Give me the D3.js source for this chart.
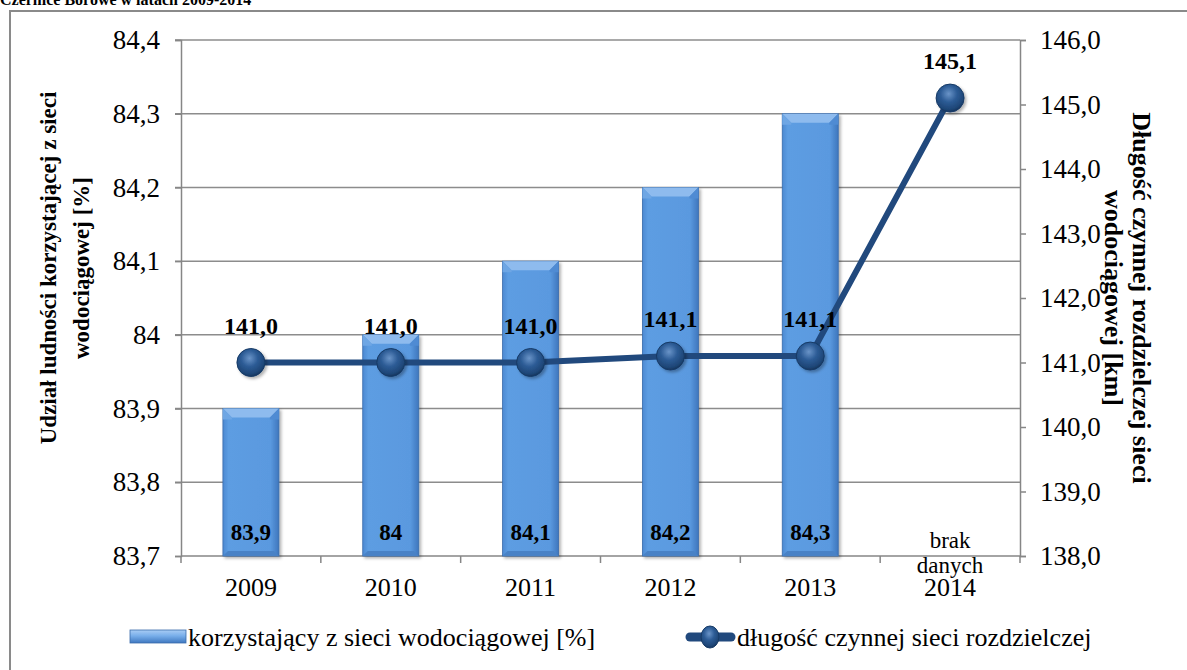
<!DOCTYPE html>
<html>
<head>
<meta charset="utf-8">
<script src="https://cdn.jsdelivr.net/npm/d3@7"></script>
<style>
  html, body { margin: 0; padding: 0; background: #fff; }
  svg { display: block; font-family: "Liberation Serif", "Times New Roman", serif; }
</style>
</head>
<body>
<svg id="chart" width="1187" height="670"></svg>
<script>
// Data: Czernice Borowe, 2009-2014
const years = ["2009", "2010", "2011", "2012", "2013", "2014"];
const shareValues = [83.9, 84.0, 84.1, 84.2, 84.3, null];       // % population using water supply network
const networkLength = [141.0, 141.0, 141.0, 141.1, 141.1, 145.1]; // active distribution network length [km]
const leftTicks = [83.7, 83.8, 83.9, 84.0, 84.1, 84.2, 84.3, 84.4];
const rightTicks = [138, 139, 140, 141, 142, 143, 144, 145, 146];

const titleText = "Czernice Borowe w latach 2009-2014";
const leftTitle = ["Udział ludności korzystającej z sieci", "wodociągowej [%]"];
const rightTitle = ["Długość czynnej rozdzielczej sieci", "wodociągowej [km]"];
const legendBar = "korzystający z sieci wodociągowej [%]";
const legendLine = "długość czynnej sieci rozdzielczej";
const noDataLabel = ["brak", "danych"];

const svg = d3.select("#chart");
const W = 1187, H = 670;
const plot = { left: 181, right: 1020, top: 40, bottom: 556 };

// Polish number formats
const fmtShare = v => (Math.round(v * 10) % 10 === 0 ? d3.format(".0f")(v) : d3.format(".1f")(v)).replace(".", ",");
const fmtLen = v => d3.format(".1f")(v).replace(".", ",");

const x = d3.scaleBand().domain(years).range([plot.left, plot.right]).paddingInner(0).paddingOuter(0);
const yL = d3.scaleLinear().domain([83.7, 84.4]).range([plot.bottom, plot.top]);
const yR = d3.scaleLinear().domain([138, 146]).range([plot.bottom, plot.top]);

const defs = svg.append("defs");

// Bar body gradient
const gBar = defs.append("linearGradient").attr("id", "barBody").attr("x1", 0).attr("x2", 1).attr("y1", 0).attr("y2", 0);
[["0%", "#4c89d2"], ["10%", "#5d9de2"], ["85%", "#5a99df"], ["100%", "#3e76bd"]]
  .forEach(([o, c]) => gBar.append("stop").attr("offset", o).attr("stop-color", c));

// Legend swatch gradient
const gLeg = defs.append("linearGradient").attr("id", "legBar").attr("x1", 0).attr("x2", 0).attr("y1", 0).attr("y2", 1);
[["0%", "#a9cdf5"], ["45%", "#78aeea"], ["100%", "#3f78c0"]]
  .forEach(([o, c]) => gLeg.append("stop").attr("offset", o).attr("stop-color", c));

// Marker sphere gradient
const gBall = defs.append("radialGradient").attr("id", "ball").attr("cx", "45%").attr("cy", "35%").attr("r", "65%");
[["0%", "#6a94c8"], ["45%", "#2d5c96"], ["85%", "#1e4677"], ["100%", "#15345c"]]
  .forEach(([o, c]) => gBall.append("stop").attr("offset", o).attr("stop-color", c));

const shadow = defs.append("filter").attr("id", "shadow").attr("x", "-20%").attr("y", "-20%").attr("width", "150%").attr("height", "150%");
shadow.append("feDropShadow").attr("dx", 2).attr("dy", 2).attr("stdDeviation", 1.5).attr("flood-color", "#000").attr("flood-opacity", 0.3);

// Frame and title
svg.append("path").attr("d", `M10,${H} L10,11 L${W},11`).attr("fill", "none").attr("stroke", "#8a8a8a").attr("stroke-width", 2);
svg.append("text").attr("x", 0).attr("y", 5).attr("font-weight", "bold").attr("font-size", 16).text(titleText);

// Gridlines
svg.append("g").selectAll("line").data(leftTicks.slice(1)).join("line")
  .attr("x1", plot.left - 6).attr("x2", plot.right)
  .attr("y1", d => yL(d)).attr("y2", d => yL(d))
  .attr("stroke", "#8c8c8c").attr("stroke-width", 1.5);

// Left axis
const axL = svg.append("g").attr("transform", `translate(${plot.left},0)`)
  .call(d3.axisLeft(yL).tickValues(leftTicks).tickFormat(fmtShare).tickSize(6).tickPadding(15));
axL.select(".domain").attr("stroke", "#868686").attr("stroke-width", 1.5);
axL.selectAll(".tick line").attr("stroke", "#868686").attr("stroke-width", 1.5);
axL.selectAll("text").attr("font-size", 27).attr("fill", "#000").attr("font-family", "Liberation Serif");

// Right axis
const axR = svg.append("g").attr("transform", `translate(${plot.right},0)`)
  .call(d3.axisRight(yR).tickValues(rightTicks).tickFormat(fmtLen).tickSize(6).tickPadding(14));
axR.select(".domain").attr("stroke", "#868686").attr("stroke-width", 1.5);
axR.selectAll(".tick line").attr("stroke", "#868686").attr("stroke-width", 1.5);
axR.selectAll("text").attr("font-size", 27).attr("fill", "#000").attr("font-family", "Liberation Serif");

// Bottom axis: ticks at category boundaries
const axB = svg.append("g").attr("transform", `translate(0,${plot.bottom})`);
axB.append("line").attr("x1", plot.left).attr("x2", plot.right).attr("stroke", "#868686").attr("stroke-width", 1.5);
axB.selectAll("line.tk").data(years.concat(["end"])).join("line").attr("class", "tk")
  .attr("x1", (d, i) => plot.left + i * x.bandwidth()).attr("x2", (d, i) => plot.left + i * x.bandwidth())
  .attr("y1", 0).attr("y2", 7).attr("stroke", "#868686").attr("stroke-width", 1.5);
axB.selectAll("text").data(years).join("text")
  .attr("x", d => x(d) + x.bandwidth() / 2).attr("y", 40)
  .attr("text-anchor", "middle").attr("font-size", 26).text(d => d);

// Bars
const barW = 56, bev = 9;
const barData = years.map((y, i) => ({ year: y, v: shareValues[i] })).filter(d => d.v != null);
const bars = svg.append("g").selectAll("g").data(barData).join("g")
  .attr("filter", "url(#shadow)");
bars.each(function (d) {
  const g = d3.select(this);
  const cx = x(d.year) + x.bandwidth() / 2;
  const x0 = cx - barW / 2, x1 = cx + barW / 2;
  const yt = yL(d.v), yb = yL(83.7);
  g.append("rect").attr("x", x0).attr("y", yt).attr("width", barW).attr("height", yb - yt)
    .attr("fill", "url(#barBody)").attr("stroke", "#3a6cab").attr("stroke-width", 0.8);
  // top bevel
  g.append("path").attr("d", `M${x0},${yt} L${x1},${yt} L${x1 - bev},${yt + bev} L${x0 + bev},${yt + bev} Z`).attr("fill", "#8ebbee");
  g.append("path").attr("d", `M${x0},${yt} L${x0 + bev},${yt + bev} L${x0 + bev},${yt + bev + 2} L${x0},${yt + bev + 2} Z`).attr("fill", "#6ea6e4");
  g.append("path").attr("d", `M${x1},${yt} L${x1 - bev},${yt + bev} L${x1 - bev},${yt + bev + 2} L${x1},${yt + bev + 2} Z`).attr("fill", "#4f8bd3");
  // bottom bevel
  g.append("path").attr("d", `M${x0},${yb} L${x1},${yb} L${x1 - 5},${yb - 5} L${x0 + 5},${yb - 5} Z`).attr("fill", "#4a82c6");
});

// Bar value labels
svg.append("g").selectAll("text").data(barData).join("text")
  .attr("x", d => x(d.year) + x.bandwidth() / 2).attr("y", yL(83.7) - 16)
  .attr("text-anchor", "middle").attr("font-weight", "bold").attr("font-size", 23).text(d => fmtShare(d.v));

// Missing-data note for 2014
const nd = years.findIndex((y, i) => shareValues[i] == null);
svg.append("g").selectAll("text").data(noDataLabel).join("text")
  .attr("x", x(years[nd]) + x.bandwidth() / 2).attr("y", (d, i) => yL(83.7) - 8 + i * 25)
  .attr("text-anchor", "middle").attr("font-size", 23).text(d => d);

// Line series
const pts = years.map((y, i) => ({ year: y, v: networkLength[i] }));
svg.append("path").datum(pts)
  .attr("d", d3.line().x(d => x(d.year) + x.bandwidth() / 2).y(d => yR(d.v)))
  .attr("fill", "none").attr("stroke", "#21497d").attr("stroke-width", 6).attr("stroke-linejoin", "round");

svg.append("g").selectAll("circle").data(pts).join("circle")
  .attr("cx", d => x(d.year) + x.bandwidth() / 2).attr("cy", d => yR(d.v)).attr("r", 14)
  .attr("fill", "url(#ball)").attr("stroke", "#163a66").attr("stroke-width", 1)
  .attr("filter", "url(#shadow)");

svg.append("g").selectAll("text").data(pts).join("text")
  .attr("x", d => x(d.year) + x.bandwidth() / 2).attr("y", d => yR(d.v) - 29)
  .attr("text-anchor", "middle").attr("font-weight", "bold").attr("font-size", 24).text(d => fmtLen(d.v));

// Axis titles
const lt = svg.append("text").attr("transform", `translate(0,268) rotate(-90)`)
  .attr("text-anchor", "middle").attr("font-weight", "bold").attr("font-size", 23);
lt.selectAll("tspan").data(leftTitle).join("tspan").attr("x", 0).attr("y", (d, i) => 56 + i * 33).text(d => d);

const rt = svg.append("text").attr("transform", `translate(0,298) rotate(90)`)
  .attr("text-anchor", "middle").attr("font-weight", "bold").attr("font-size", 26);
rt.selectAll("tspan").data(rightTitle).join("tspan").attr("x", 0).attr("y", (d, i) => -1133 + i * 28).text(d => d);

// Legend
const lg = svg.append("g");
lg.append("rect").attr("x", 130).attr("y", 630).attr("width", 56).attr("height", 13)
  .attr("fill", "url(#legBar)").attr("stroke", "#3a6cab").attr("stroke-width", 0.8);
lg.append("text").attr("x", 188).attr("y", 646).attr("font-size", 26).text(legendBar);
lg.append("line").attr("x1", 690).attr("x2", 731).attr("y1", 637).attr("y2", 637)
  .attr("stroke", "#21497d").attr("stroke-width", 9).attr("stroke-linecap", "round");
lg.append("ellipse").attr("cx", 710).attr("cy", 637).attr("rx", 9).attr("ry", 11).attr("fill", "url(#ball)").attr("stroke", "#163a66");
lg.append("text").attr("x", 737).attr("y", 646).attr("font-size", 26).text(legendLine);
</script>
</body>
</html>
